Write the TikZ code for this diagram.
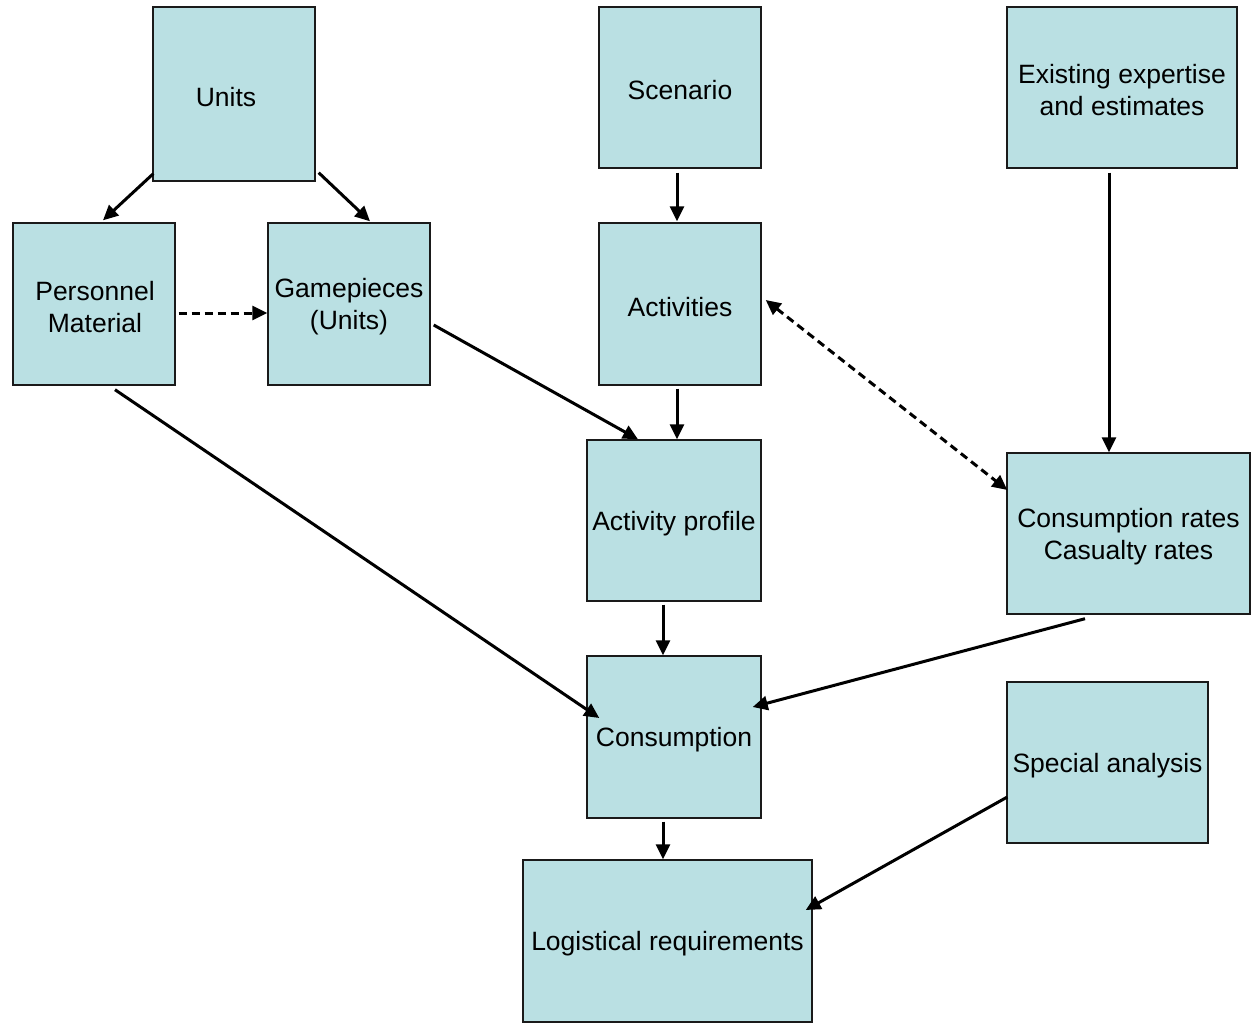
\documentclass[tikz,border=0pt]{standalone}
\usepackage{fontspec}
\setmainfont{Liberation Sans}
\usetikzlibrary{arrows.meta}
\definecolor{boxfill}{HTML}{BAE0E3}
\definecolor{boxline}{HTML}{1A1A1A}
\tikzset{
  box/.style={draw=boxline, line width=1.4pt, fill=boxfill, inner sep=0pt},
  txt/.style={inner sep=0pt, align=center, font=\fontsize{26.5}{32}\selectfont},
  arr/.style={line width=3pt, -{Triangle[length=15pt,width=14pt]}},
  darr/.style={arr, dash pattern=on 8pt off 5pt},
  dbarr/.style={line width=3pt, dash pattern=on 8pt off 5pt,
    {Triangle[length=15pt,width=14pt]}-{Triangle[length=15pt,width=14pt]}},
}
\begin{document}
\begin{tikzpicture}[x=1pt,y=-1pt]
\useasboundingbox (0,0) rectangle (1258,1025);
\node[box, minimum width=162pt, minimum height=174pt] (units) at (234,94) {};
\node[box, minimum width=162pt, minimum height=161pt] (scen) at (680,87.5) {};
\node[box, minimum width=230pt, minimum height=161pt] (exp) at (1122,87.5) {};
\node[box, minimum width=162pt, minimum height=162pt] (pers) at (94,304) {};
\node[box, minimum width=162pt, minimum height=162pt] (game) at (349,304) {};
\node[box, minimum width=162pt, minimum height=162pt] (act) at (680,304) {};
\node[box, minimum width=174pt, minimum height=161pt] (prof) at (674,520.5) {};
\node[box, minimum width=243pt, minimum height=161pt] (rates) at (1128.5,533.5) {};
\node[box, minimum width=174pt, minimum height=162pt] (cons) at (674,737) {};
\node[box, minimum width=201pt, minimum height=161pt] (spec) at (1107.5,762.5) {};
\node[box, minimum width=289pt, minimum height=162pt] (logi) at (667.5,941) {};

\node[txt] (unitsT) at (226,97) {Units};
\node[txt] (scenT) at ([shift={(0,3)}]scen.center) {Scenario};
\node[txt] (expT) at ([shift={(0,3)}]exp.center) {Existing expertise\\and estimates};
\node[txt] (persT) at ([shift={(1,3)}]pers.center) {Personnel\\Material};
\node[txt] (gameT) at ([shift={(0,3)}]game.center) {Gamepieces\\(Units)};
\node[txt] (actT) at ([shift={(0,3)}]act.center) {Activities};
\node[txt] (profT) at ([shift={(0,3)}]prof.center) {Activity profile};
\node[txt] (ratesT) at ([shift={(0,3)}]rates.center) {Consumption rates\\Casualty rates};
\node[txt] (consT) at ([shift={(0,3)}]cons.center) {Consumption};
\node[txt] (specT) at ([shift={(0,3)}]spec.center) {Special analysis};
\node[txt] (logiT) at ([shift={(0,3)}]logi.center) {Logistical requirements};

\draw[arr] ([shift={(1,-8)}]units.south west) -- ([shift={(9,-2)}]pers.north);
\draw[arr] ([shift={(3,-9)}]units.south east) -- ([shift={(21,-1)}]game.north);
\draw[darr] ([shift={(3,9)}]pers.east) -- ([shift={(0,9)}]game.west);
\draw[arr] ([shift={(-3,4)}]scen.south) -- ([shift={(-3,-1)}]act.north);
\draw[arr] ([shift={(3,21)}]game.east) -- ([shift={(-36,0)}]prof.north);
\draw[arr] ([shift={(-3,3)}]act.south) -- ([shift={(3,0)}]prof.north);
\draw[arr] ([shift={(-13,4)}]exp.south) -- ([shift={(-19.5,0)}]rates.north);
\draw[dbarr] ([shift={(4,-4)}]act.east) -- ([shift={(1,-43.5)}]rates.west);
\draw[arr] ([shift={(21,4)}]pers.south) -- ([shift={(13,-19)}]cons.west);
\draw[arr] ([shift={(-11,3)}]prof.south) -- ([shift={(-11,0)}]cons.north);
\draw[arr] ([shift={(-43.5,4)}]rates.south) -- ([shift={(-9,-30)}]cons.east);
\draw[arr] ([shift={(-11,3)}]cons.south) -- ([shift={(-4.5,0)}]logi.north);
\draw[arr] ([shift={(1,34.5)}]spec.west) -- ([shift={(-7,-31)}]logi.east);
\end{tikzpicture}
\end{document}
